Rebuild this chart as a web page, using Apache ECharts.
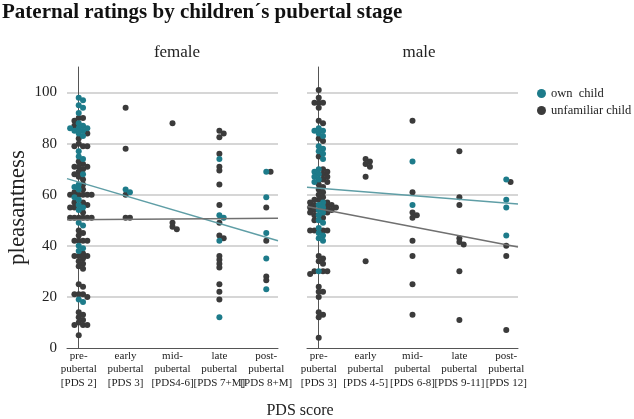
<!DOCTYPE html>
<html><head><meta charset="utf-8">
<script src="https://cdn.jsdelivr.net/npm/echarts@6/dist/echarts.min.js"></script>
<style>html,body{margin:0;padding:0;background:#fff}#c{width:634px;height:419px}</style>
</head><body><div id="c"></div>
<script>
// ---- data ----
const femaleStages = ['pre-\npubertal\n[PDS 2]', 'early\npubertal\n[PDS 3]', 'mid-\npubertal\n[PDS4-6]', 'late\npubertal\n[PDS 7+M]', 'post-\npubertal\n[PDS 8+M]'];
const maleStages = ['pre-\npubertal\n[PDS 3]', 'early\npubertal\n[PDS 4-5]', 'mid-\npubertal\n[PDS 6-8]', 'late\npubertal\n[PDS 9-11]', 'post-\npubertal\n[PDS 12]'];

const femaleOwn = [
  [98, 97, 95, 94, 92, 88, 87, 86, 86, 86, 85, 85, 84, 83, 77, 75, 74, 68, 64, 63, 62, 59, 58, 56, 55, 54, 49, 48, 40, 39, 38, 19, 18],
  [62, 61],
  [],
  [74, 52, 51, 42, 12],
  [69, 59, 45, 35, 23]
];
const femaleUnfamiliar = [
  [90, 90, 89, 87, 84, 82, 80, 79, 79, 79, 73, 72, 71, 71, 71, 70, 69, 68, 67, 66, 64, 62, 61, 60, 60, 60, 60, 60, 57, 57, 56, 55, 55, 53, 51, 51, 51, 51, 51, 51, 51, 46, 45, 44, 42, 42, 42, 42, 37, 36, 36, 36, 35, 34, 33, 32, 31, 25, 24, 21, 21, 21, 20, 14, 13, 12, 11, 10, 9, 9, 9, 5],
  [94, 78, 60, 51, 51],
  [88, 49, 47.5, 46.5],
  [85, 84, 82.5, 76, 71, 69.5, 64, 56, 49, 44, 43, 36, 34.5, 33, 31.5, 25, 22, 19],
  [69, 55, 42, 28, 26.5]
];
const maleOwn = [
  [86, 85, 85, 84, 83, 79, 78, 77, 76, 74, 70, 69, 68, 67, 66, 65, 57, 56, 55, 54, 53, 52, 50, 49, 47, 45, 44, 43, 42, 30],
  [],
  [73, 56],
  [],
  [66, 58, 55, 44]
];
const maleUnfamiliar = [
  [101, 98, 96, 96, 96, 94, 89, 88, 82, 81, 75, 70, 69, 68, 67, 66, 65, 64, 63, 62, 61, 60, 59, 58, 58, 57, 57, 56, 56, 56, 55, 55, 55, 54, 54, 54, 53, 53, 52, 51, 50, 46, 46, 46, 46, 36, 35, 34, 33, 30, 30, 30, 29, 24, 22, 22, 20, 14, 13, 12, 4],
  [74, 73, 72, 71, 67, 34],
  [89, 61, 53, 52, 51, 42, 36, 25, 13],
  [77, 59, 56, 43, 41.5, 40.5, 30, 11],
  [65, 40, 36, 7]
];
// fitted lines: value at left and right edge of each panel
const femaleOwnFit = [66.3, 42.0];
const femaleUnfamiliarFit = [50.2, 50.8];
const maleOwnFit = [62.9, 56.4];
const maleUnfamiliarFit = [55.4, 39.5];

const yMin = 0, yMax = 110, yStep = 20;
const xMin = -0.25, xMax = 4.25;

// ---- layout ----
const G = { top: 67, height: 281, width: 211, lefts: [67, 307] };
const PX_X = G.width / (xMax - xMin), PX_Y = G.height / (yMax - yMin);
const STEP = 4.3, MIN_DY = 2.7;

function swarm(ownCols, unfCols) {
  const own = [], unf = [];
  ownCols.forEach((_, col) => {
    const pts = [];
    ownCols[col].forEach(v => pts.push({ v, g: 0 }));
    unfCols[col].forEach(v => pts.push({ v, g: 1 }));
    pts.sort((a, b) => b.v - a.v);
    const placed = [];
    pts.forEach(p => {
      for (let k = 0; k < 40; k++) {
        const off = k === 0 ? 0 : (k % 2 ? 1 : -1) * Math.ceil(k / 2) * STEP;
        const ok = placed.every(q => Math.abs((q.v - p.v) * PX_Y) >= MIN_DY || Math.abs(q.off - off) >= STEP * 0.99);
        if (ok) { p.off = off; placed.push(p); break; }
      }
    });
    placed.forEach(p => (p.g ? unf : own).push([col + p.off / PX_X, p.v]));
  });
  return { own, unf };
}

const F = swarm(femaleOwn, femaleUnfamiliar);
const M = swarm(maleOwn, maleUnfamiliar);

const SERIF = 'Liberation Serif';
const TEAL = '#1d7b8a', DARK = '#3b3b3b';

function xAxis(i, labels) {
  return {
    type: 'value', gridIndex: i, min: xMin, max: xMax, interval: 0.25,
    axisLine: { show: true, lineStyle: { color: '#555', width: 1 } },
    axisTick: { show: false }, splitLine: { show: false },
    axisLabel: {
      fontFamily: SERIF, fontSize: 11, lineHeight: 13.5, color: '#222', margin: 1,
      formatter: v => Math.abs(v - Math.round(v)) < 1e-6 ? (labels[Math.round(v)] || '') : ''
    }
  };
}
function yAxis(i) {
  return {
    type: 'value', gridIndex: i, min: yMin, max: yMax, interval: yStep,
    name: i === 0 ? 'pleasantness' : '', nameLocation: 'middle', nameGap: 38,
    nameTextStyle: { fontFamily: SERIF, fontSize: 23, color: '#222' },
    axisLine: { show: true, lineStyle: { color: '#555', width: 1 } },
    axisTick: { show: false },
    splitLine: { show: true, showMinLine: false, showMaxLine: false, lineStyle: { color: '#c9c9c9', width: 1.5 } },
    axisLabel: { show: i === 0, showMaxLabel: false, fontFamily: SERIF, fontSize: 15, color: '#222', margin: 10 }
  };
}
function scatter(name, data, color, i, z) {
  return { name, type: 'scatter', xAxisIndex: i, yAxisIndex: i, data, symbolSize: 6, z,
    itemStyle: { color, opacity: 1 }, emphasis: { disabled: true } };
}
function fit(vals, color, i) {
  return { type: 'line', xAxisIndex: i, yAxisIndex: i, data: [[xMin, vals[0]], [xMax, vals[1]]],
    symbol: 'none', silent: true, z: 5, lineStyle: { color, width: 1.5 } };
}

const chart = echarts.init(document.getElementById('c'), null, { renderer: 'canvas' });
chart.setOption({
  animation: false,
  backgroundColor: '#fff',
  grid: G.lefts.map(l => ({ left: l, top: G.top, width: G.width, height: G.height })),
  xAxis: [xAxis(0, femaleStages), xAxis(1, maleStages)],
  yAxis: [yAxis(0), yAxis(1)],
  legend: {
    data: ['own  child', 'unfamiliar child'], orient: 'vertical', left: 532, top: 82,
    icon: 'circle', itemWidth: 9, itemHeight: 9, itemGap: 4,
    textStyle: { fontFamily: SERIF, fontSize: 12.5, color: '#222' }
  },
  graphic: [
    { type: 'text', left: 2, top: 2, style: { text: 'Paternal ratings by children\u00b4s pubertal stage', font: 'bold 21px "Liberation Serif"', fill: '#111' } },
    { type: 'text', x: 177, y: 53, style: { text: 'female', font: '17px "Liberation Serif"', fill: '#222', textAlign: 'center', textVerticalAlign: 'middle' } },
    { type: 'text', x: 419, y: 53, style: { text: 'male', font: '17px "Liberation Serif"', fill: '#222', textAlign: 'center', textVerticalAlign: 'middle' } },
    { type: 'text', x: 300, y: 411, style: { text: 'PDS score', font: '16px "Liberation Serif"', fill: '#222', textAlign: 'center', textVerticalAlign: 'middle' } }
  ],
  series: [
    scatter('unfamiliar child', F.unf, DARK, 0, 2),
    scatter('own  child', F.own, TEAL, 0, 3),
    scatter('unfamiliar child', M.unf, DARK, 1, 2),
    scatter('own  child', M.own, TEAL, 1, 3),
    fit(femaleOwnFit, '#5f9ea6', 0),
    fit(femaleUnfamiliarFit, '#707070', 0),
    fit(maleOwnFit, '#5f9ea6', 1),
    fit(maleUnfamiliarFit, '#707070', 1)
  ]
});
</script></body></html>
